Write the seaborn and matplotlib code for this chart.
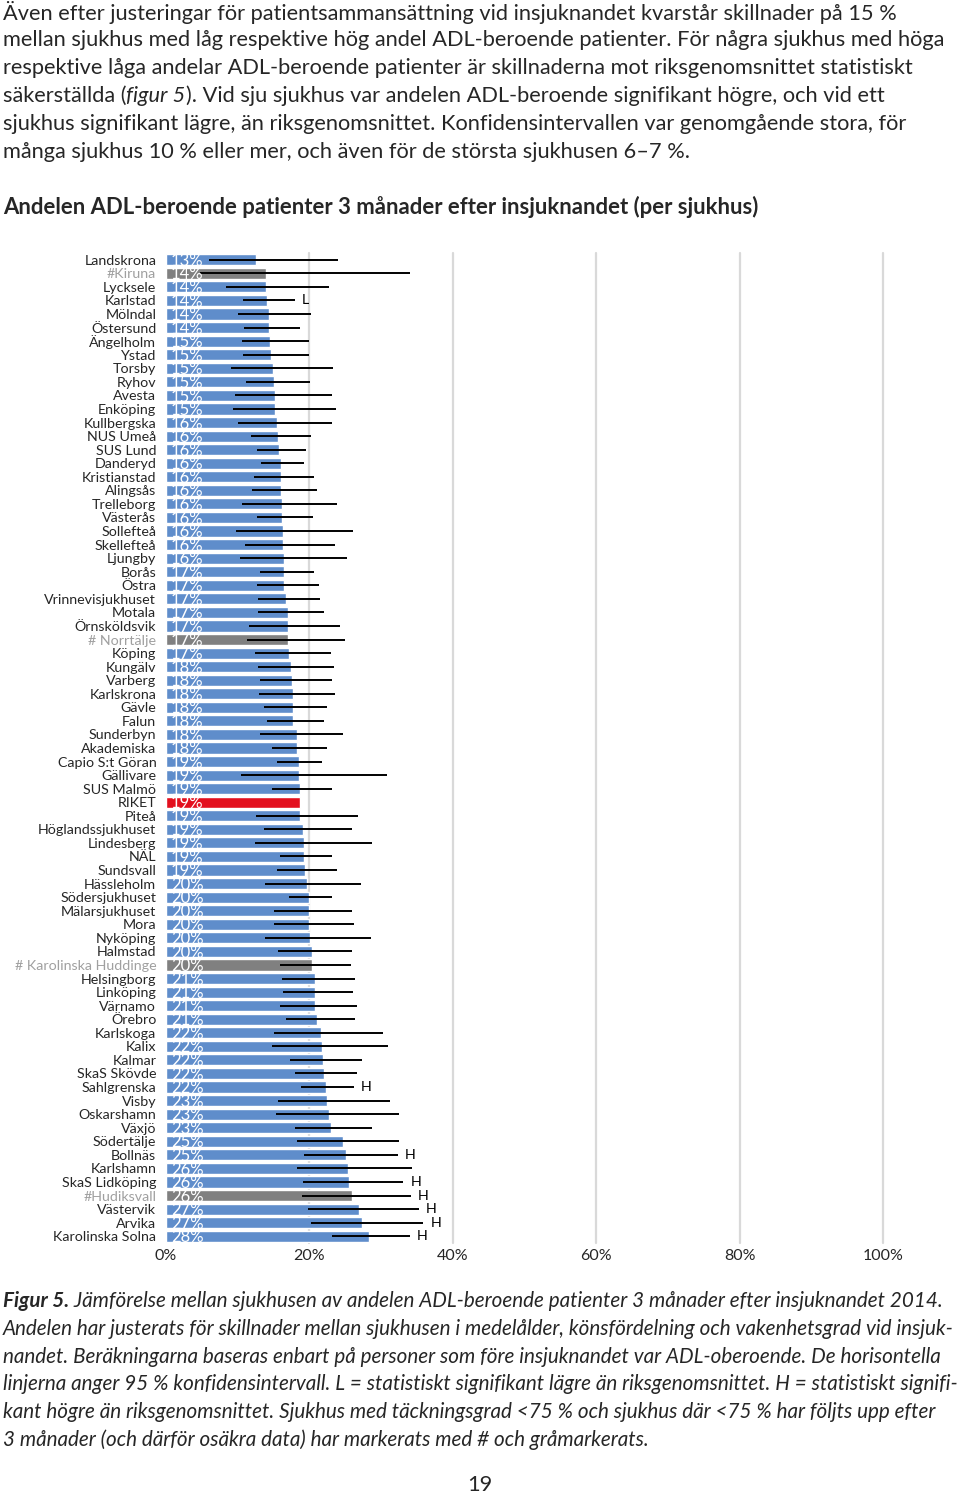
import numpy as np
import pandas as pd
import matplotlib
matplotlib.use("Agg")
import matplotlib.pyplot as plt
import seaborn as sns

# data (andel = adjusted share in %, ci = 95 % interval)
sjukhus = ["Landskrona", "#Kiruna", "Lycksele", "Karlstad", "Mölndal", "Östersund",
           "Ängelholm", "Ystad", "Torsby", "Ryhov", "Avesta", "Enköping", "Kullbergska",
           "NUS Umeå", "SUS Lund", "Danderyd", "Kristianstad", "Alingsås", "Trelleborg",
           "Västerås", "Sollefteå", "Skellefteå", "Ljungby", "Borås", "Östra",
           "Vrinnevisjukhuset", "Motala", "Örnsköldsvik", "# Norrtälje", "Köping",
           "Kungälv", "Varberg", "Karlskrona", "Gävle", "Falun", "Sunderbyn", "Akademiska",
           "Capio S:t Göran", "Gällivare", "SUS Malmö", "RIKET", "Piteå",
           "Höglandssjukhuset", "Lindesberg", "NÄL", "Sundsvall", "Hässleholm",
           "Södersjukhuset", "Mälarsjukhuset", "Mora", "Nyköping", "Halmstad",
           "# Karolinska Huddinge", "Helsingborg", "Linköping", "Värnamo", "Örebro",
           "Karlskoga", "Kalix", "Kalmar", "SkaS Skövde", "Sahlgrenska", "Visby",
           "Oskarshamn", "Växjö", "Södertälje", "Bollnäs", "Karlshamn", "SkaS Lidköping",
           "#Hudiksvall", "Västervik", "Arvika", "Karolinska Solna"]

andel = [12.6, 13.9, 13.9, 14.1, 14.4, 14.4, 14.5, 14.7, 14.9, 15.1, 15.2, 15.2, 15.5,
         15.6, 15.8, 16.0, 16.0, 16.0, 16.2, 16.2, 16.3, 16.3, 16.45, 16.5, 16.5,
         16.7, 17.0, 17.0, 17.0, 17.2, 17.5, 17.6, 17.7, 17.7, 17.7, 18.3, 18.3,
         18.5, 18.6, 18.7, 18.7, 18.7, 19.1, 19.3, 19.3, 19.4, 19.7, 19.9, 19.9,
         19.9, 20.1, 20.4, 20.4, 20.8, 20.8, 20.8, 21.1, 21.6, 21.8, 21.9, 22.0,
         22.3, 22.5, 22.7, 23.0, 24.7, 25.1, 25.4, 25.5, 26.0, 26.9, 27.4, 28.3]

visad = [13, 14, 14, 14, 14, 14, 15, 15, 15, 15, 15, 15, 16, 16, 16, 16, 16, 16, 16,
         16, 16, 16, 16, 17, 17, 17, 17, 17, 17, 17, 18, 18, 18, 18, 18, 18, 18, 19,
         19, 19, 19, 19, 19, 19, 19, 19, 20, 20, 20, 20, 20, 20, 20, 21, 21, 21, 21,
         22, 22, 22, 22, 22, 23, 23, 23, 25, 25, 26, 26, 26, 27, 27, 28]

ci_low = [6.0, 4.7, 8.3, 10.8, 10.0, 10.9, 10.6, 10.7, 9.0, 11.2, 9.6, 9.4, 10.0,
          11.9, 12.7, 13.3, 12.3, 12.0, 10.6, 12.7, 9.8, 11.0, 10.3, 13.1, 12.7,
          12.8, 12.8, 11.6, 11.3, 12.4, 12.8, 13.1, 13.0, 13.7, 14.1, 13.1, 14.8,
          15.5, 10.4, 14.8, np.nan, 12.6, 13.7, 12.4, 15.9, 15.5, 13.8, 17.2, 15.0,
          15.1, 13.8, 15.6, 15.9, 16.2, 16.3, 15.9, 16.7, 15.1, 14.8, 17.3, 18.0,
          18.8, 15.6, 15.3, 18.0, 18.3, 19.3, 18.3, 19.1, 19.0, 19.8, 20.2, 23.1]

ci_high = [24.0, 34.0, 22.7, 18.0, 20.2, 18.7, 19.9, 19.9, 23.3, 20.1, 23.1, 23.7, 23.2,
           20.2, 19.5, 19.2, 20.7, 21.1, 23.9, 20.5, 26.1, 23.6, 25.2, 20.6, 21.3,
           21.5, 22.1, 24.3, 24.9, 23.0, 23.5, 23.2, 23.6, 22.5, 22.0, 24.7, 22.4,
           21.8, 30.8, 23.1, np.nan, 26.8, 26.0, 28.8, 23.2, 23.9, 27.2, 23.1, 26.0,
           26.2, 28.6, 26.0, 25.8, 26.3, 26.1, 26.7, 26.3, 30.2, 30.9, 27.4, 26.7,
           26.2, 31.3, 32.5, 28.8, 32.5, 32.3, 34.3, 33.1, 34.2, 35.3, 35.9, 34.0]

# L = significantly lower, H = significantly higher than the national average
signifikans = {"Karlstad": "L", "Sahlgrenska": "H", "Bollnäs": "H", "SkaS Lidköping": "H",
               "#Hudiksvall": "H", "Västervik": "H", "Arvika": "H", "Karolinska Solna": "H"}
osakra = ["#Kiruna", "# Norrtälje", "# Karolinska Huddinge", "#Hudiksvall"]
riket = "RIKET"

text_overst = [
    "Även efter justeringar för patientsammansättning vid insjuknandet kvarstår skillnader på 15 %",
    "mellan sjukhus med låg respektive hög andel ADL-beroende patienter. För några sjukhus med höga",
    "respektive låga andelar ADL-beroende patienter är skillnaderna mot riksgenomsnittet statistiskt",
    None,
    "sjukhus signifikant lägre, än riksgenomsnittet. Konfidensintervallen var genomgående stora, för",
    "många sjukhus 10 % eller mer, och även för de största sjukhusen 6–7 %.",
]
rubrik = "Andelen ADL-beroende patienter 3 månader efter insjuknandet (per sjukhus)"
figurtext = [
    None,
    "Andelen har justerats för skillnader mellan sjukhusen i medelålder, könsfördelning och vakenhetsgrad vid insjuk-",
    "nandet. Beräkningarna baseras enbart på personer som före insjuknandet var ADL-oberoende. De horisontella",
    "linjerna anger 95 % konfidensintervall. L = statistiskt signifikant lägre än riksgenomsnittet. H = statistiskt signifi-",
    "kant högre än riksgenomsnittet. Sjukhus med täckningsgrad <75 % och sjukhus där <75 % har följts upp efter",
    "3 månader (och därför osäkra data) har markerats med # och gråmarkerats.",
]

BLA = "#5F8DCB"
GRA = "#808080"
ROD = "#E3101E"

sns.set_theme(style="white")
plt.rcParams["font.family"] = ["Lato", "DejaVu Sans"]

W, H = 960, 1493
fig = plt.figure(figsize=(9.6, 14.93), dpi=100)
renderer = fig.canvas.get_renderer()


def fx(px):
    return px / W


def fy(py):
    return 1 - py / H


def text_width(s, size, **kw):
    # bar trick so leading/trailing spaces are counted
    t1 = fig.text(0, 0, "|" + s + "|", fontsize=size, **kw)
    t2 = fig.text(0, 0, "||", fontsize=size, **kw)
    w = t1.get_window_extent(renderer).width - t2.get_window_extent(renderer).width
    t1.remove()
    t2.remove()
    return w


def fit_size(s, target, **kw):
    return 20 * target / text_width(s, 20, **kw)


def segments(x, y, parts, size):
    for s, kw in parts:
        fig.text(fx(x), fy(y), s, fontsize=size, va="center", ha="left", **kw)
        x += text_width(s, size, **kw)


# --- text above the chart
fs_body = fit_size(text_overst[0], 897)
ys = [12, 40, 68, 96, 124, 152]
for i, line in enumerate(text_overst):
    if line is None:
        segments(3, ys[i], [("säkerställda (", {}), ("figur 5", {"style": "italic"}),
                            ("). Vid sju sjukhus var andelen ADL-beroende signifikant högre, och vid ett", {})],
                 fs_body)
    else:
        fig.text(fx(3), fy(ys[i]), line, fontsize=fs_body, va="center", ha="left")

fs_title = fit_size(rubrik, 754, weight="bold")
fig.text(fx(3), fy(207), rubrik, fontsize=fs_title, weight="bold", va="center", ha="left")

# --- chart
n = len(sjukhus)
ax = fig.add_axes([fx(166), fy(1243), 717 / W, 990 / H])

farger = {}
for s in sjukhus:
    farger[s] = ROD if s == riket else (GRA if s in osakra else BLA)

df = pd.DataFrame({"sjukhus": sjukhus, "andel": andel})
sns.barplot(data=df, x="andel", y="sjukhus", hue="sjukhus", order=sjukhus,
            palette=farger, saturation=1, width=0.82, legend=False, ax=ax, zorder=2)

for v in [20, 40, 60, 80, 100]:
    ax.axvline(v, color="#d9d9d9", lw=1.6, zorder=0, clip_on=False)

ci = pd.DataFrame({"y": np.arange(n), "lo": ci_low, "hi": ci_high}).dropna()
ax.hlines(ci["y"], ci["lo"], ci["hi"], color="black", lw=1.4, zorder=3)

fs_lab = fit_size("Vrinnevisjukhuset", 113)
fs_val = 12
for i, s in enumerate(sjukhus):
    ax.annotate(f"{visad[i]}%", xy=(0, i), xytext=(3.5, -0.8), textcoords="offset points",
                ha="left", va="center", color="white", fontsize=fs_val, zorder=4)
    if s in signifikans:
        ax.annotate(signifikans[s], xy=(ci_high[i], i), xytext=(5, 0), textcoords="offset points",
                    ha="left", va="center", color="black", fontsize=fs_lab, zorder=4)

ax.set_xlim(0, 100)
ax.set_ylim(n - 0.5, -0.5)
ax.set_xticks([0, 20, 40, 60, 80, 100])
ax.set_xticklabels([f"{v}%" for v in [0, 20, 40, 60, 80, 100]], fontsize=11.5)
ax.set_yticks(np.arange(n))
ax.set_yticklabels(sjukhus, fontsize=fs_lab)
for lab in ax.get_yticklabels():
    if lab.get_text() in osakra:
        lab.set_color("#a0a0a0")
ax.tick_params(axis="x", length=0, pad=4)
ax.tick_params(axis="y", length=0, pad=7)
ax.set_xlabel("")
ax.set_ylabel("")
for sp in ax.spines.values():
    sp.set_visible(False)

# --- caption
fs_cap = fit_size(figurtext[1], 954, style="italic")
ys = [1301, 1329, 1357, 1384, 1412, 1440]
for i, line in enumerate(figurtext):
    if line is None:
        segments(3, ys[i], [("Figur 5.", {"style": "italic", "weight": "bold"}),
                            (" Jämförelse mellan sjukhusen av andelen ADL-beroende patienter 3 månader efter insjuknandet 2014.",
                             {"style": "italic"})], fs_cap)
    else:
        fig.text(fx(3), fy(ys[i]), line, fontsize=fs_cap, style="italic", va="center", ha="left")

fig.text(fx(480), fy(1485), "19", fontsize=fs_body, va="center", ha="center")

fig.savefig("out.png", dpi=100)
